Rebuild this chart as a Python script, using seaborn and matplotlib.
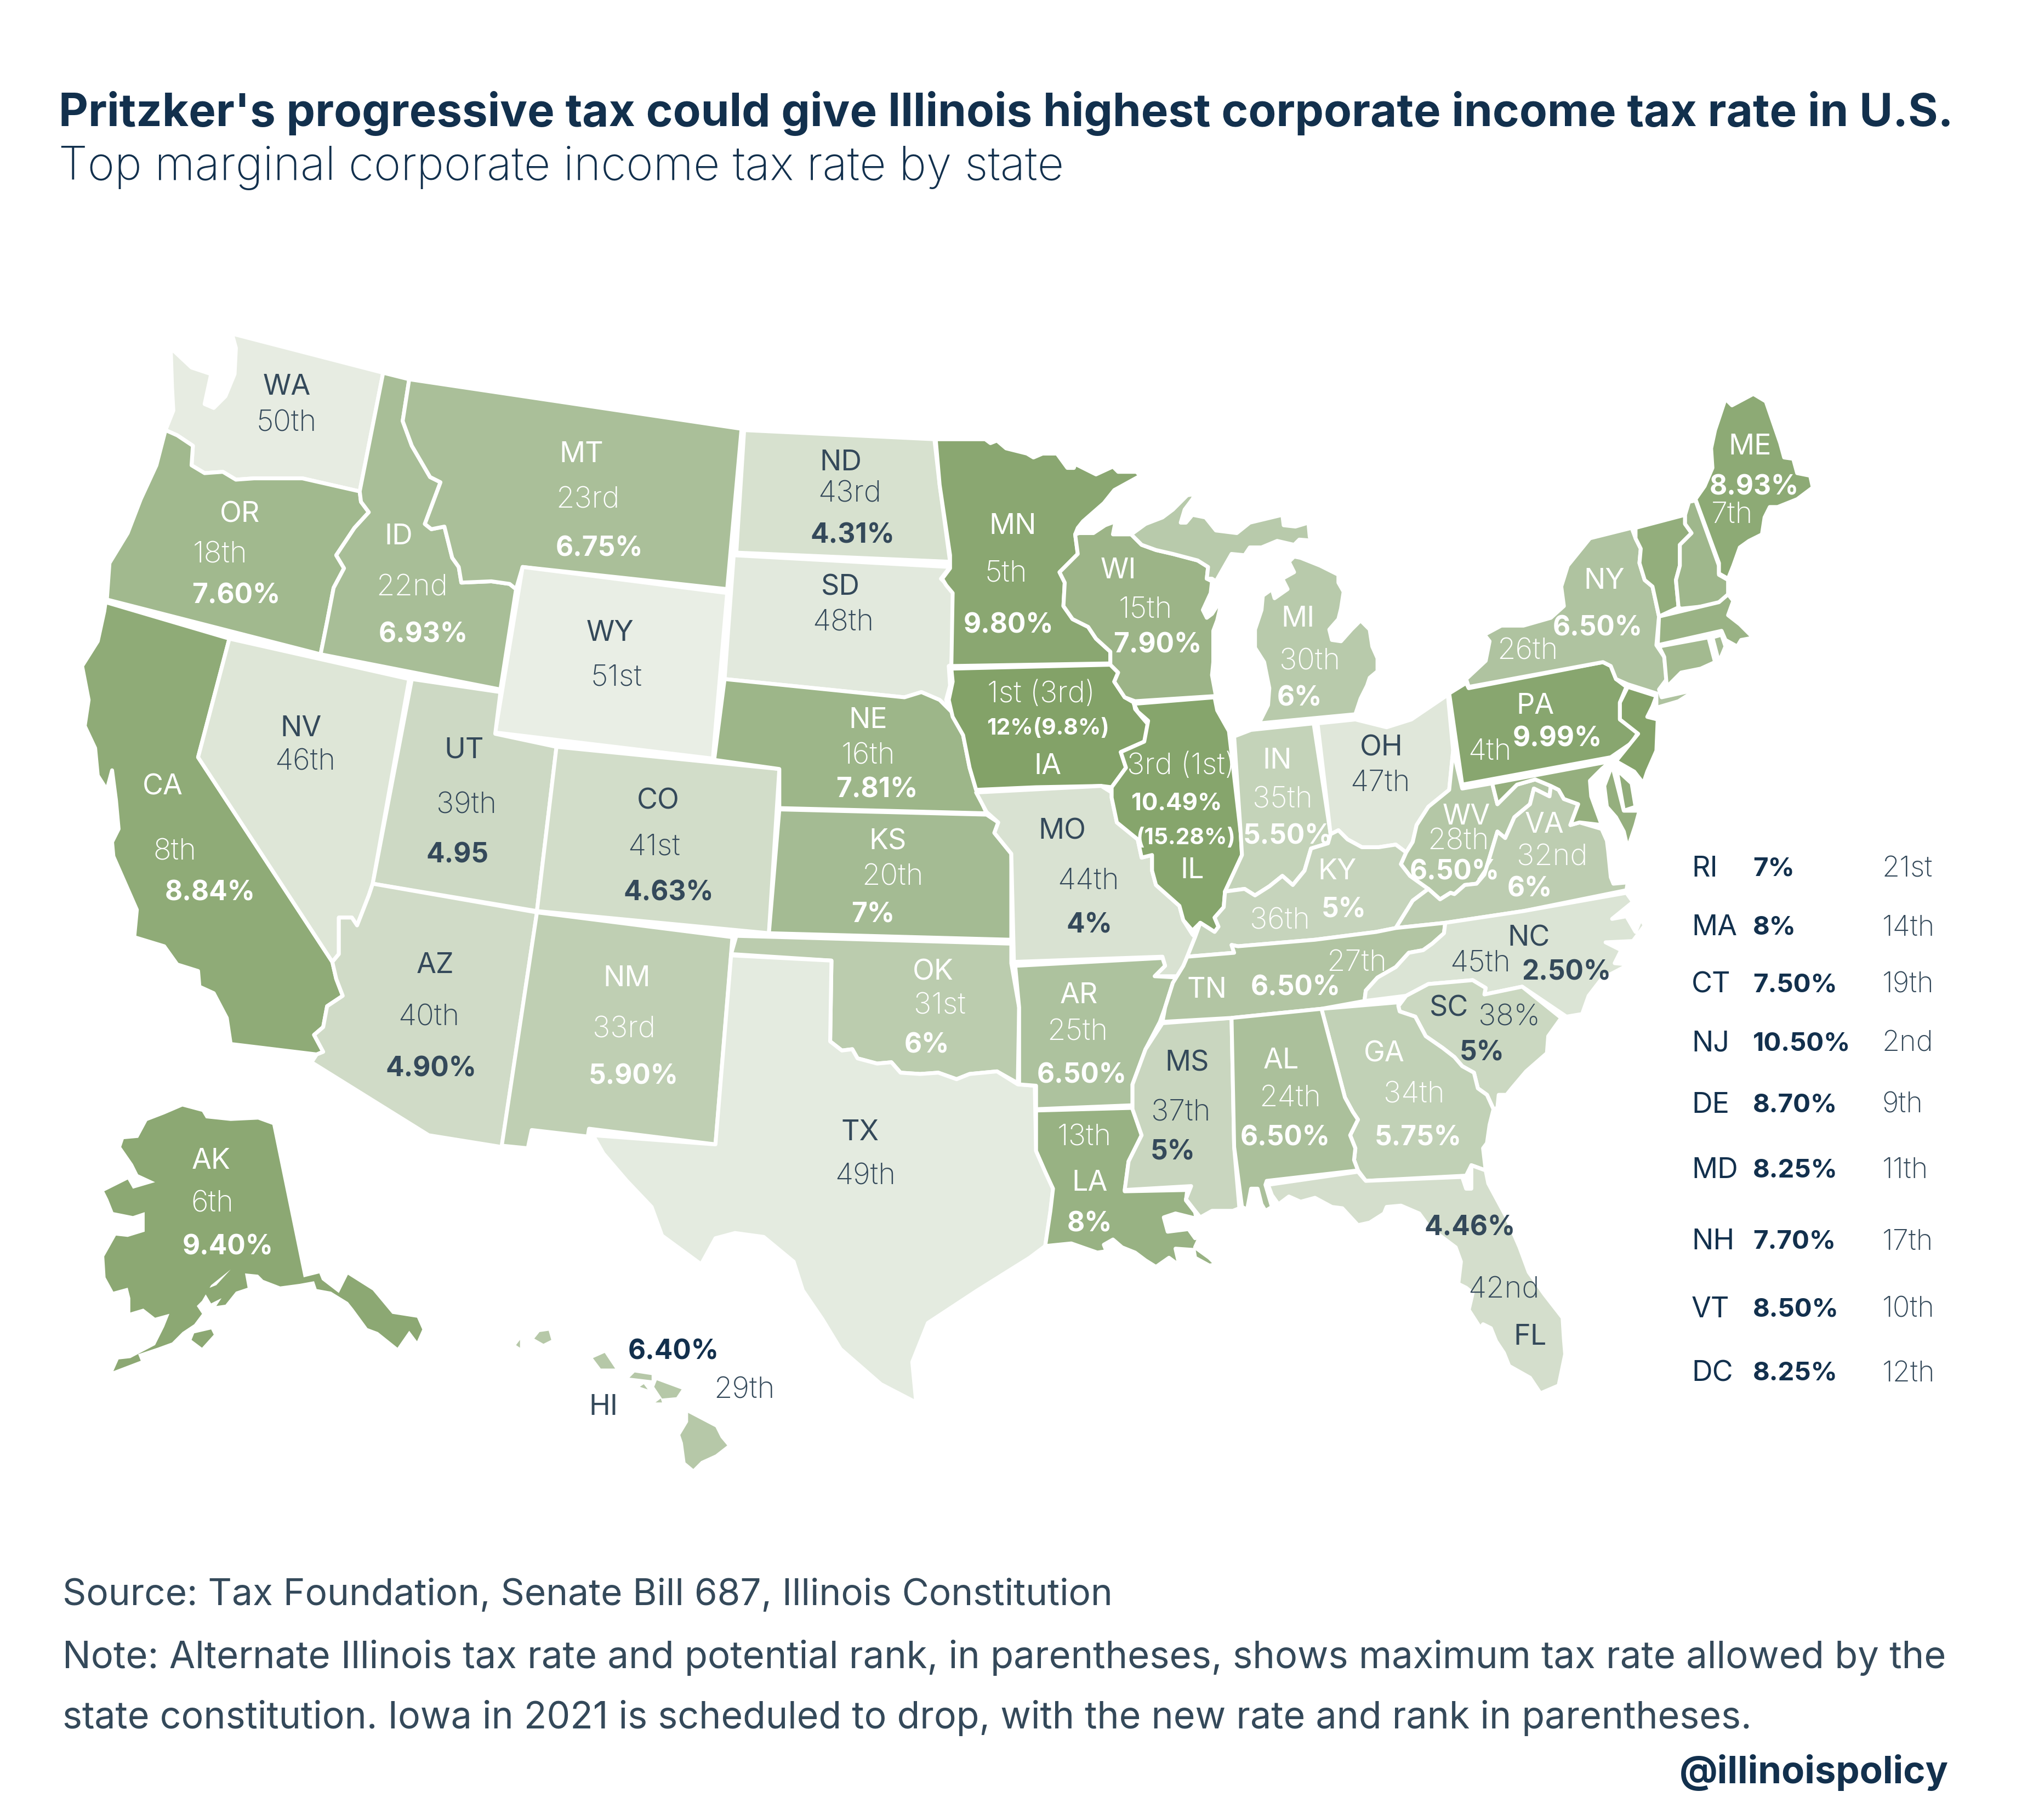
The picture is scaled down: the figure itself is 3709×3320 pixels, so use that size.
import matplotlib
matplotlib.use("Agg")
import matplotlib.pyplot as plt
import seaborn as sns

# State outlines (units = reference px / 2.3776, y down)
wa = [(178,256),(294,286),(276,377),(232,367),(216,367),(195,367),(181,368),(171,362),(157,363),(147,357),(148,342),(136,334),(127,330),(133,315),(132,297),(131,267),(147,282),(162,287),(157,310),(164,313),(173,304),(180,287),(181,267)]
or_ = [(127,330),(136,334),(148,342),(147,357),(157,363),(171,362),(181,368),(195,367),(216,367),(232,367),(276,377),(277,385),(283,393),(272,405),(258,426),(264,436),(256,451),(251,477),(246,502),(82,460),(84,432),(98,409),(108,383),(120,357)]
ca = [(81,462),(176,490),(152,581),(255,738),(258,751),(263,764),(251,772),(248,788),(241,794),(248,807),(243,809),(177,801),(174,781),(164,762),(153,757),(152,745),(136,740),(126,726),(103,719),(105,698),(87,657),(86,646),(91,636),(89,614),(86,591),(82,606),(75,595),(73,574),(65,557),(68,537),(63,511),(75,492),(80,469)]
nv = [(176,490),(314,521),(286,678),(283,687),(274,710),(270,704),(260,704),(260,732),(255,738),(152,581)]
id_ = [(294,286),(314,291),(309,323),(316,342),(330,366),(338,370),(326,402),(331,406),(341,404),(347,428),(352,435),(354,447),(377,446),(391,448),(396,452),(384,529),(246,502),(251,477),(256,451),(264,436),(258,426),(272,405),(283,393),(277,385),(276,377)]
mt = [(314,291),(569,329),(558,452),(401,435),(396,452),(391,448),(377,446),(354,447),(352,435),(347,428),(341,404),(331,406),(326,402),(338,370),(330,366),(316,342),(309,323)]
wy = [(401,435),(558,455),(547,582),(380,562)]
ut = [(316,521),(384,531),(380,563),(427,573),(412,699),(286,678)]
co = [(427,573),(598,590),(590,716),(412,699)]
az = [(286,678),(412,700),(385,880),(329,871),(239,815),(243,809),(248,807),(241,794),(248,788),(251,772),(263,764),(258,751),(255,738),(260,732),(260,704),(270,704),(274,710),(283,687)]
nm = [(412,700),(562,719),(549,878),(452,866),(451,872),(408,867),(405,881),(385,879)]
nd = [(571,330),(717,337),(721,372),(729,431),(565,424)]
sd = [(563,426),(729,435),(722,444),(727,449),(733,455),(730,510),(728,511),(729,526),(726,537),(730,545),(721,537),(707,531),(694,535),(556,521)]
ne = [(556,521),(694,535),(707,531),(721,537),(730,546),(739,564),(744,589),(749,606),(757,624),(598,620),(598,590),(548,583)]
ks = [(598,621),(757,625),(766,631),(763,639),(776,655),(776,721),(590,716)]
ok = [(565,718),(776,724),(776,739),(782,773),(781,831),(765,822),(744,824),(734,828),(720,823),(706,824),(691,823),(684,815),(673,816),(658,812),(654,805),(646,806),(637,799),(638,737),(561,732)]
tx = [(561,733),(638,737),(637,799),(646,806),(654,805),(658,812),(673,816),(684,815),(691,823),(706,824),(720,823),(734,828),(744,824),(765,822),(781,832),(794,833),(795,883),(802,899),(808,912),(806,930),(802,956),(790,965),(750,990),(712,1015),(700,1045),(703,1076),(676,1062),(645,1035),(631,1012),(616,990),(609,968),(586,949),(564,946),(549,950),(538,970),(508,948),(500,926),(481,906),(463,885),(455,871),(549,878)]
mn = [(718,337),(756,337),(760,340),(765,338),(772,344),(788,348),(793,351),(800,348),(811,348),(819,359),(824,359),(825,356),(841,364),(854,358),(858,362),(872,362),(875,365),(855,376),(847,386),(831,400),(827,405),(825,410),(827,425),(813,439),(817,447),(816,465),(823,475),(835,481),(841,490),(852,500),(852,509),(730,511),(731,455),(726,449),(723,444),(729,436),(729,426),(721,372)]
ia = [(730,513),(852,510),(858,516),(855,523),(863,535),(870,539),(871,544),(876,550),(882,557),(878,569),(860,577),(864,589),(853,604),(845,603),(795,604),(749,606),(744,589),(739,564),(731,550),(728,537),(731,523)]
mo = [(749,608),(845,603),(853,608),(853,612),(857,631),(873,644),(876,658),(884,656),(884,668),(887,679),(905,695),(908,706),(915,717),(917,719),(911,734),(905,749),(886,749),(894,741),(892,734),(778,738),(776,655),(763,639),(766,631),(757,623)]
ar = [(779,741),(892,735),(894,741),(886,749),(905,750),(900,754),(894,773),(890,784),(879,805),(869,832),(869,848),(795,851),(795,833),(782,832),(782,773)]
la = [(795,852),(869,850),(876,871),(866,891),(863,914),(911,913),(910,921),(917,930),(918,935),(902,931),(893,934),(896,945),(912,943),(917,950),(922,946),(917,957),(928,965),(933,970),(928,971),(917,965),(916,959),(902,958),(905,971),(897,965),(887,972),(879,967),(871,961),(861,957),(854,951),(847,955),(849,960),(842,961),(822,954),(802,956),(806,929),(808,912),(802,899),(795,883)]
ms = [(892,785),(945,781),(947,880),(951,927),(946,929),(930,929),(921,934),(917,929),(910,920),(914,910),(863,913),(866,891),(876,871),(869,851),(869,832),(879,805)]
wi = [(828,409),(839,409),(848,403),(856,400),(854,410),(866,410),(868,410),(876,418),(887,422),(900,425),(919,430),(927,435),(926,444),(930,446),(929,455),(923,468),(926,474),(930,471),(941,454),(937,463),(934,476),(931,484),(931,508),(930,518),(933,534),(871,538),(863,535),(855,523),(858,516),(852,510),(852,500),(841,490),(835,481),(823,475),(816,465),(817,447),(813,439),(827,425),(825,410)]
il = [(870,540),(932,535),(934,545),(943,561),(952,639),(953,656),(940,684),(939,696),(932,704),(935,711),(932,715),(921,708),(915,714),(908,706),(905,695),(887,679),(884,668),(884,656),(876,658),(873,644),(857,631),(853,612),(853,604),(864,589),(860,577),(878,569),(881,553),(873,546)]
mi_upper = [(868,410),(879,402),(892,397),(900,391),(911,380),(917,379),(915,383),(909,391),(906,401),(910,401),(915,395),(925,397),(933,407),(949,409),(959,401),(984,395),(985,403),(994,404),(1004,401),(1005,412),(1020,415),(1022,416),(997,414),(993,418),(980,415),(968,420),(959,420),(955,426),(945,425),(937,439),(933,446),(930,444),(926,444),(927,435),(919,430),(900,425),(887,422),(876,418)]
mi_lower = [(993,427),(998,428),(1013,434),(1027,441),(1027,447),(1031,454),(1029,467),(1027,475),(1020,483),(1022,491),(1029,492),(1037,483),(1044,476),(1051,483),(1053,496),(1057,505),(1057,515),(1051,520),(1049,526),(1044,536),(1040,548),(966,555),(973,541),(974,528),(970,508),(963,497),(963,483),(968,468),(969,457),(976,452),(978,459),(988,452),(984,444),(993,439),(989,431)]
in_ = [(947,565),(960,560),(1008,555),(1021,640),(1019,647),(1006,651),(1001,668),(992,679),(984,672),(974,680),(963,687),(955,682),(940,684),(953,656),(952,639)]
oh = [(1011,555),(1040,552),(1064,558),(1083,552),(1111,533),(1115,576),(1112,606),(1096,619),(1087,633),(1084,646),(1079,654),(1071,648),(1058,650),(1045,650),(1034,644),(1027,637),(1021,640)]
ky = [(1027,637),(1034,644),(1045,650),(1058,650),(1071,648),(1079,654),(1075,663),(1082,672),(1096,682),(1084,691),(1071,712),(1056,715),(1009,721),(950,726),(945,725),(947,731),(911,734),(917,719),(921,708),(932,715),(935,711),(932,704),(939,696),(940,684),(955,682),(963,687),(974,680),(984,672),(992,679),(1001,668),(1006,651),(1019,647),(1021,640)]
wv = [(1115,576),(1122,605),(1145,601),(1149,617),(1164,602),(1178,598),(1190,603),(1189,611),(1177,605),(1174,617),(1162,627),(1155,643),(1149,638),(1139,671),(1133,678),(1124,679),(1116,686),(1113,685),(1105,690),(1096,682),(1082,672),(1075,663),(1079,654),(1084,646),(1087,633),(1096,619),(1112,606)]
va = [(1071,712),(1084,691),(1096,682),(1105,690),(1113,685),(1116,686),(1124,679),(1133,678),(1139,671),(1149,638),(1155,643),(1162,627),(1174,617),(1177,605),(1189,611),(1190,603),(1196,606),(1200,613),(1211,617),(1205,633),(1212,631),(1229,636),(1233,645),(1234,653),(1236,673),(1238,678),(1249,677),(1248,683),(1169,699),(1109,708)]
tn = [(911,734),(947,731),(945,725),(950,726),(1009,721),(1056,715),(1071,712),(1109,708),(1108,716),(1099,724),(1092,729),(1081,731),(1071,742),(1057,750),(1048,760),(1047,768),(1014,774),(945,781),(892,784),(894,773),(900,754),(908,741)]
nc = [(1109,708),(1169,699),(1248,685),(1253,692),(1237,705),(1248,703),(1255,715),(1259,705),(1262,710),(1253,722),(1232,723),(1244,729),(1239,739),(1250,740),(1229,751),(1219,764),(1214,778),(1202,780),(1168,757),(1139,763),(1140,758),(1130,752),(1096,755),(1079,764),(1047,768),(1048,760),(1057,750),(1071,742),(1081,731),(1092,729),(1099,724),(1108,716)]
sc = [(1079,764),(1096,755),(1130,752),(1140,758),(1139,763),(1168,757),(1198,781),(1188,795),(1187,808),(1171,822),(1160,835),(1156,840),(1150,840),(1149,850),(1146,851),(1141,840),(1134,835),(1131,823),(1122,818),(1116,811),(1107,804),(1094,795),(1086,780),(1074,776),(1073,772)]
ga = [(1014,774),(1073,769),(1073,772),(1074,776),(1086,780),(1094,795),(1107,804),(1116,811),(1122,818),(1131,823),(1134,835),(1141,840),(1146,851),(1143,863),(1141,877),(1138,881),(1140,898),(1129,894),(1125,902),(1048,906),(1042,898),(1039,890),(1040,881),(1036,871),(1042,859),(1038,853),(1032,842)]
al = [(945,781),(1014,774),(1032,842),(1038,853),(1042,859),(1036,871),(1040,881),(1039,890),(1042,898),(972,906),(971,909),(976,926),(971,929),(968,924),(965,912),(960,912),(957,928),(953,926),(947,880)]
fl = [(973,909),(1042,899),(1048,906),(1122,903),(1125,912),(1129,912),(1129,894),(1140,898),(1142,908),(1156,934),(1166,957),(1173,976),(1185,993),(1199,1011),(1200,1027),(1201,1039),(1196,1063),(1182,1069),(1174,1057),(1158,1048),(1154,1038),(1148,1029),(1144,1019),(1138,1016),(1136,1019),(1127,1005),(1130,992),(1125,988),(1119,985),(1121,968),(1117,957),(1105,948),(1097,942),(1089,931),(1075,925),(1064,926),(1062,931),(1051,938),(1042,940),(1030,927),(1022,926),(1009,919),(998,922),(989,918),(981,924),(976,917)]
pa = [(1112,532),(1125,524),(1127,528),(1230,508),(1236,511),(1240,521),(1248,527),(1243,539),(1243,552),(1257,562),(1252,570),(1236,581),(1122,602)]
ny = [(1220,413),(1252,405),(1255,413),(1259,421),(1258,432),(1262,445),(1268,450),(1273,473),(1271,495),(1277,504),(1279,521),(1273,529),(1275,535),(1302,529),(1288,538),(1271,543),(1271,532),(1249,525),(1240,521),(1236,511),(1230,508),(1127,527),(1125,521),(1140,507),(1143,492),(1139,487),(1152,480),(1169,480),(1190,474),(1200,465),(1198,450),(1203,434)]
nj = [(1249,527),(1271,534),(1268,542),(1264,550),(1272,552),(1271,576),(1264,592),(1261,601),(1254,592),(1240,584),(1257,563),(1243,552),(1243,539)]
de = [(1239,582),(1240,590),(1252,601),(1255,619),(1246,622)]
md_west = [(1145,601),(1236,584),(1229,590),(1220,599),(1221,611),(1229,633),(1212,631),(1205,633),(1211,617),(1200,613),(1196,606),(1190,603),(1178,598),(1164,602),(1149,617)]
md_shore = [(1237,587),(1246,622),(1258,622),(1255,633),(1249,651),(1246,638),(1240,627),(1233,619),(1231,603)]
vt = [(1255,405),(1293,395),(1293,402),(1298,409),(1289,418),(1289,434),(1286,445),(1288,466),(1273,473),(1268,450),(1262,445),(1258,432),(1259,421),(1255,413)]
nh = [(1296,385),(1301,384),(1319,434),(1319,441),(1326,445),(1326,456),(1319,464),(1290,467),(1288,466),(1286,445),(1289,434),(1289,418),(1298,409),(1293,402),(1293,395)]
ma = [(1273,473),(1319,462),(1326,456),(1330,461),(1326,472),(1335,479),(1344,488),(1355,485),(1352,488),(1336,491),(1333,496),(1324,491),(1321,484),(1272,495)]
ct = [(1273,496),(1311,489),(1316,508),(1305,513),(1290,516),(1279,527),(1277,504)]
ri = [(1314,489),(1321,487),(1324,496),(1319,508)]
me = [(1345,302),(1355,308),(1366,340),(1369,351),(1376,352),(1379,363),(1389,365),(1391,374),(1379,383),(1364,389),(1358,389),(1354,397),(1352,410),(1342,415),(1335,420),(1330,434),(1326,444),(1319,440),(1319,432),(1301,383),(1308,373),(1314,359),(1313,344),(1316,330),(1324,306),(1329,311),(1344,303)]
ak_main = [(140,849),(155,853),(158,858),(177,860),(198,859),(209,863),(233,980),(245,977),(247,982),(260,992),(267,978),(286,990),(301,1008),(320,1011),(324,1020),(320,1029),(314,1021),(305,1034),(290,1022),(282,1019),(271,1004),(267,999),(254,991),(243,989),(241,983),(230,985),(215,987),(202,982),(198,978),(188,977),(190,988),(181,991),(173,1001),(166,1002),(170,996),(162,1000),(156,990),(166,986),(177,974),(162,986),(155,998),(151,1002),(155,1008),(149,1016),(140,1022),(132,1030),(121,1034),(106,1039),(108,1044),(87,1052),(91,1043),(100,1042),(119,1032),(126,1018),(130,1008),(119,1011),(110,1004),(100,1007),(100,996),(98,988),(87,991),(81,980),(80,964),(89,948),(98,949),(111,945),(111,930),(102,933),(87,930),(83,920),(80,914),(98,905),(102,912),(119,907),(106,901),(102,893),(93,880),(95,874),(106,873),(113,860),(126,855)]
ak_kodiak = [(149,1023),(162,1020),(164,1024),(155,1034),(147,1028)]
hi_kauai = [(421,1021),(423,1028),(417,1031),(410,1027),(414,1022)]
hi_niihau = [(399,1028),(399,1034),(396,1032)]
hi_oahu = [(464,1038),(472,1050),(461,1050),(455,1042)]
hi_molokai = [(487,1053),(500,1055),(500,1059),(483,1057)]
hi_lanai = [(494,1062),(497,1066),(491,1064)]
hi_maui = [(504,1059),(523,1066),(519,1072),(508,1073),(502,1064)]
hi_kahoolawe = [(507,1073),(508,1076),(503,1076)]
hi_big = [(528,1084),(549,1095),(553,1103),(558,1109),(549,1116),(538,1121),(532,1127),(526,1122),(524,1107),(522,1101),(528,1091)]

# Rank decides the shade
state_codes = ["WA","OR","CA","NV","ID","MT","WY","UT","CO","AZ","NM","ND","SD","NE","KS","OK","TX","MN","IA","MO","AR","LA","MS","WI","IL","MI","IN","OH","KY","WV","VA","TN","NC","SC","GA","AL","FL","PA","NY","NJ","DE","MD","VT","NH","MA","CT","RI","ME","AK","HI"]
state_ranks = [50,18,8,46,22,23,51,39,41,40,33,43,48,16,20,31,49,5,1,44,25,13,37,15,3,30,35,47,36,28,32,27,45,38,34,24,42,4,26,2,9,11,10,17,14,19,21,7,6,29]
state_parts = [[wa],[or_],[ca],[nv],[id_],[mt],[wy],[ut],[co],[az],[nm],[nd],[sd],[ne],[ks],[ok],[tx],[mn],[ia],[mo],[ar],[la],[ms],[wi],[il],[mi_upper,mi_lower],[in_],[oh],[ky],[wv],[va],[tn],[nc],[sc],[ga],[al],[fl],[pa],[ny],[nj],[de],[md_west,md_shore],[vt],[nh],[ma],[ct],[ri],[me],[ak_main,ak_kodiak],[hi_kauai,hi_niihau,hi_oahu,hi_molokai,hi_lanai,hi_maui,hi_kahoolawe,hi_big]]

# Text on the map: code, rank, rate
code_labels = ["WA","OR","CA","NV","ID","MT","WY","UT","CO","AZ","NM","ND","SD","NE","KS","OK","TX","MN","IA","MO","AR","LA","MS","WI","IL","MI","IN","OH","KY","WV","VA","TN","NC","SC","GA","AL","FL","PA","NY","ME","AK","HI"]
code_xy = [(220,295),(184,393),(125,602),(231,557),(306,410),(446,347),(468,484),(356,574),(505,613),(334,739),(481,749),(645,353),(645,449),(666,551),(681,644),(716,744),(660,867),(777,402),(804,586),(815,636),(828,762),(836,906),(911,814),(858,436),(915,666),(996,473),(980,582),(1060,572),(1026,667),(1125,625),(1185,631),(926,758),(1173,718),(1112,772),(1062,807),(983,812),(1174,1024),(1178,540),(1231,444),(1343,341),(162,889),(463,1078)]
rank_labels = ["50th","18th","8th","46th","22nd","23rd","51st","39th","41st","40th","33rd","43rd","48th","16th","20th","31st","49th","5th","1st (3rd)","44th","25th","13th","37th","15th","3rd (1st)","30th","35th","47th","36th","28th","32nd","27th","45th","38%","34th","24th","42nd","4th","26th","7th","6th","29th"]
rank_xy = [(220,323),(169,424),(134,652),(234,583),(316,449),(451,382),(473,518),(358,616),(502,648),(329,779),(479,788),(652,377),(647,476),(666,578),(685,671),(721,770),(664,901),(772,438),(799,531),(835,674),(827,790),(832,871),(906,852),(879,466),(906,586),(1005,506),(984,612),(1059,599),(982,705),(1119,644),(1191,656),(1041,737),(1136,737),(1158,779),(1085,838),(990,841),(1154,988),(1143,575),(1172,498),(1329,393),(163,922),(571,1065)]
rate_labels = ["7.60%","8.84%","6.93%","6.75%","4.95","4.63%","4.90%","5.90%","4.31%","7.81%","7%","6%","9.80%","12%(9.8%)","4%","6.50%","8%","5%","7.90%","10.49%","(15.28%)","6%","5.50%","5%","6.50%","6%","6.50%","2.50%","5%","5.75%","6.50%","4.46%","9.99%","6.50%","8.93%","9.40%","6.40%"]
rate_xy = [(181,455),(161,683),(325,485),(460,419),(351,654),(513,683),(331,818),(486,824),(654,409),(673,604),(670,700),(711,800),(774,478),(804,557),(836,708),(830,823),(836,937),(900,882),(888,493),(903,615),(910,641),(997,534),(988,640),(1031,696),(1116,667),(1174,680),(994,756),(1202,744),(1137,806),(1088,871),(986,871),(1128,940),(1195,565),(1226,480),(1346,372),(175,955),(517,1035)]

# Side table for the small states
table_codes = ["RI","MA","CT","NJ","DE","MD","NH","VT","DC"]
table_rates = ["7%","8%","7.50%","10.50%","8.70%","8.25%","7.70%","8.50%","8.25%"]
table_ranks = ["21st","14th","19th","2nd","9th","11th","17th","10th","12th"]
table_y = [665,710,754,799,846,896,951,1003,1052]

title = "Pritzker's progressive tax could give Illinois highest corporate income tax rate in U.S."
subtitle = "Top marginal corporate income tax rate by state"
notes = ["Source: Tax Foundation, Senate Bill 687, Illinois Constitution",
         "Note: Alternate Illinois tax rate and potential rank, in parentheses, shows maximum tax rate allowed by the",
         "state constitution. Iowa in 2021 is scheduled to drop, with the new rate and rank in parentheses."]
note_y = [1222,1270,1316]
note_sizes = [16.2,16.5,16.35]

DARK = "#34495a"
NAVY = "#12304d"
TEXT_DY = 2  # Inter sits a little high with va=center
# states whose labels are dark, everything else is white on green
dark_text = {"WA","NV","WY","UT","CO","AZ","ND","SD","TX","MO","MS","OH","NC","SC","FL","HI"}

sns.set_theme(style="white")
plt.rcParams["font.family"] = ["Inter", "DejaVu Sans"]

fig = plt.figure(figsize=(3709 / 300, 3320 / 300), dpi=300)
ax = fig.add_axes([0, 0, 1, 1])
ax.set_xlim(0, 3709 / 2.3776)
ax.set_ylim(3320 / 2.3776, 0)
ax.axis("off")

cmap = sns.blend_palette(["#83a268", "#afc3a0", "#e9eee5"], as_cmap=True)

for code, rank, parts in zip(state_codes, state_ranks, state_parts):
    colour = cmap((rank - 1) / 50)
    edge_width = 0 if code in ("AK", "HI") else 1.7
    for part in parts:
        xs, ys = zip(*part)
        ax.fill(xs, ys, facecolor=colour, edgecolor="white", linewidth=edge_width, joinstyle="round")


def label_colour(code):
    return DARK if code in dark_text else "white"


for code, (x, y) in zip(code_labels, code_xy):
    ax.text(x, y + TEXT_DY, code, ha="center", va="center", fontsize=12.5, weight="normal", color=label_colour(code))

for code, rank, (x, y) in zip(code_labels, rank_labels, rank_xy):
    ax.text(x, y + TEXT_DY, rank, ha="center", va="center", fontsize=13, weight="light", color=label_colour(code))

# rate labels in map order, the ones on light states are dark
dark_rates = {"4.95", "4.63%", "4.90%", "4.31%", "2.50%", "4.46%"}
dark_rate_spots = {(836, 708), (900, 882), (1137, 806)}
for rate, (x, y) in zip(rate_labels, rate_xy):
    colour = "white"
    if rate in dark_rates or (x, y) in dark_rate_spots:
        colour = DARK
    if rate == "6.40%":
        colour = NAVY
    size = 11.9
    if rate == "10.49%":
        size = 10.5
    elif rate in ("12%(9.8%)", "(15.28%)"):
        size = 9.8
    ax.text(x, y + TEXT_DY, rate, ha="center", va="center", fontsize=size, weight="bold", color=colour)

for code, rate, rank, y in zip(table_codes, table_rates, table_ranks, table_y):
    ax.text(1298, y + TEXT_DY, code, va="center", fontsize=12.5, weight="normal", color=NAVY)
    ax.text(1345, y + TEXT_DY, rate, va="center", fontsize=11.4, weight="bold", color=NAVY)
    ax.text(1444, y + TEXT_DY, rank, va="center", fontsize=12.5, weight="light", color=DARK)

ax.text(45, 85 + TEXT_DY, title, va="center", fontsize=20, weight="bold", color=NAVY)
ax.text(45, 127 + TEXT_DY, subtitle, va="center", fontsize=20.2, weight="light", color=NAVY)
for line, y, size in zip(notes, note_y, note_sizes):
    ax.text(48, y + TEXT_DY, line, va="center", fontsize=size, color=DARK)
ax.text(1495, 1358 + TEXT_DY, "@illinoispolicy", ha="right", va="center", fontsize=16.5, weight="bold", color=NAVY)

fig.savefig("out.png", dpi=300)
